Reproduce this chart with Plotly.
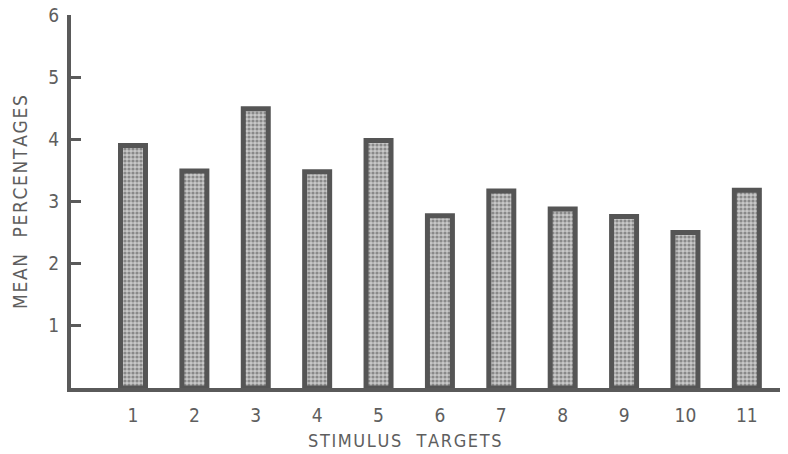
import plotly.graph_objects as go

targets = ["1", "2", "3", "4", "5", "6", "7", "8", "9", "10", "11"]
positions = [1, 2, 3, 4, 5, 6, 7, 8, 9, 10, 11]
mean_percentages = [3.90, 3.49, 4.49, 3.48, 3.98, 2.77, 3.17, 2.88, 2.76, 2.50, 3.18]
y_ticks = [1, 2, 3, 4, 5, 6]

ink = "#5a5a5a"
text_ink = "#5e5e5e"
font_family = "DejaVu Sans Condensed, DejaVu Sans, sans-serif"

def spaced(word):
    return "&#8202;".join(word)

fig = go.Figure()
fig.add_trace(go.Bar(
    x=positions,
    y=mean_percentages,
    width=0.407,
    marker=dict(
        color="#9a9a9a",
        line=dict(color="#555555", width=5),
        pattern=dict(shape=".", fgcolor="#4a4a4a", bgcolor="#c8c8c8", size=4, solidity=0.5),
    ),
    showlegend=False,
))

fig.update_layout(
    width=788, height=454,
    margin=dict(l=71, r=8, t=15, b=66),
    paper_bgcolor="white", plot_bgcolor="white",
    font=dict(family=font_family, color=text_ink, size=19),
    xaxis=dict(
        range=[-0.01, 11.54], automargin=False,
        tickmode="array", tickvals=positions, ticktext=targets,
        showline=True, linecolor=ink, linewidth=4,
        showgrid=False, zeroline=False, ticks="", ticklabelstandoff=7,
        tickfont=dict(size=19, color=text_ink),
    ),
    yaxis=dict(
        range=[0, 6], automargin=False,
        tickmode="array", tickvals=y_ticks,
        showline=True, linecolor=ink, linewidth=4,
        showgrid=False, zeroline=False,
        ticks="inside", ticklen=10, tickwidth=3, tickcolor=ink,
        ticklabelstandoff=4,
        tickfont=dict(size=19, color=text_ink),
    ),
    annotations=[
        dict(text=spaced("STIMULUS") + "&nbsp;&nbsp;&nbsp;" + spaced("TARGETS"), xref="paper", yref="paper",
             x=(404 - 71) / (780 - 71), y=(388 - 440) / (388 - 15), showarrow=False,
             font=dict(size=18, color=text_ink, family=font_family), xanchor="center", yanchor="middle"),
        dict(text=spaced("MEAN") + "&nbsp;&nbsp;&nbsp;" + spaced("PERCENTAGES"), xref="paper", yref="paper",
             x=(20 - 71) / (780 - 71), y=(388 - 202) / (388 - 15), textangle=-90, showarrow=False,
             font=dict(size=19, color=text_ink, family=font_family), xanchor="center", yanchor="middle"),
    ],
)

fig.write_html("out.html", config={"displayModeBar": False},
               post_script="document.body.style.margin='0';document.body.style.overflow='hidden';")
